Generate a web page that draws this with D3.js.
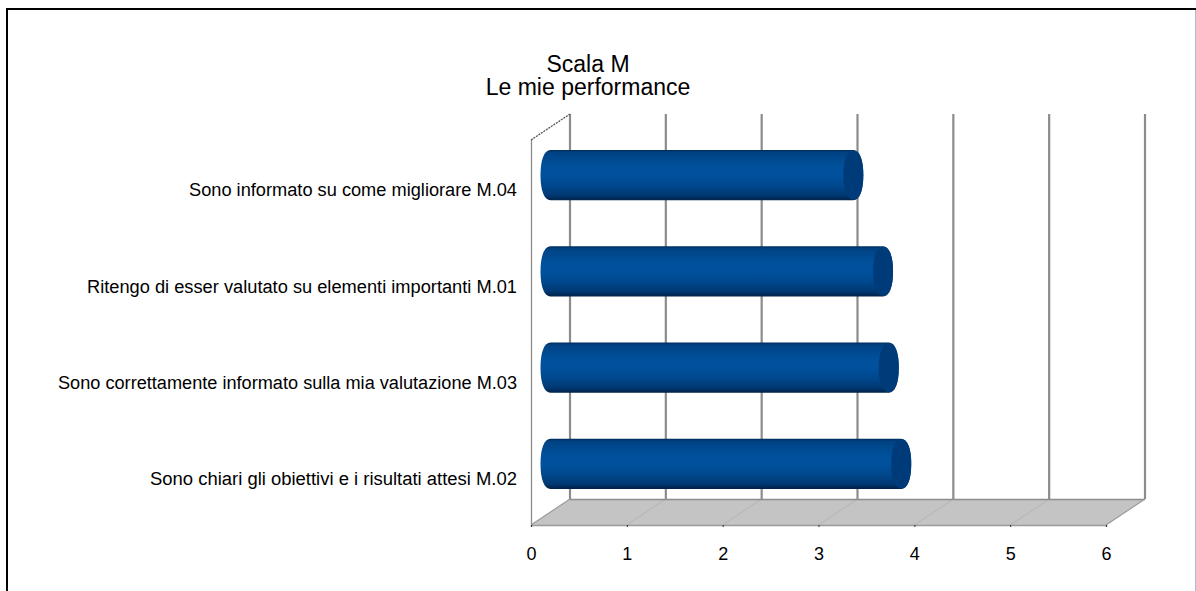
<!DOCTYPE html>
<html>
<head>
<meta charset="utf-8">
<script src="https://cdn.jsdelivr.net/npm/d3@7"></script>
<style>
html, body { margin: 0; padding: 0; background: #fff; overflow: hidden; }
text { font-family: "Liberation Sans", Arial, sans-serif; fill: #000; }
</style>
</head>
<body>
<script>
// Survey scale M: mean score per statement
const titleLines = ["Scala M", "Le mie performance"];
const categories = [
  "Sono informato su come migliorare M.04",
  "Ritengo di esser valutato su elementi importanti M.01",
  "Sono correttamente informato sulla mia valutazione M.03",
  "Sono chiari gli obiettivi e i risultati attesi M.02"
];
const scores = [3.16, 3.47, 3.53, 3.66];
const xTicks = [0, 1, 2, 3, 4, 5, 6];

const width = 1196, height = 591;
const depthX = 39, depthY = -26;   // offset of the back wall from the front plane
const plotTop = 140, plotBottom = 525;
const labelWidths = [328, 430, 459, 367];

const svg = d3.select("body").append("svg")
  .attr("width", width).attr("height", height)
  .style("display", "block");

const x = d3.scaleLinear().domain([0, 6]).range([531, 1106]);
const y = d3.scaleBand().domain(categories).range([plotTop, plotBottom])
  .paddingInner(0.48).paddingOuter(0.24);

// Outer frame
svg.append("path")
  .attr("d", `M7,${height}V9H${width}`)
  .attr("fill", "none").attr("stroke", "#000").attr("stroke-width", 2);
svg.append("line")
  .attr("x1", 1195.5).attr("x2", 1195.5).attr("y1", 10).attr("y2", height)
  .attr("stroke", "#a9bcd0").attr("stroke-width", 1);

// Title
svg.append("text")
  .attr("x", 588).attr("y", 72).attr("text-anchor", "middle")
  .attr("font-size", 23)
  .selectAll("tspan").data(titleLines).join("tspan")
  .attr("x", 588).attr("dy", (d, i) => i ? 23 : 0).text(d => d);

const defs = svg.append("defs");
const bodyGrad = defs.append("linearGradient").attr("id", "barBody")
  .attr("x1", 0).attr("x2", 0).attr("y1", 0).attr("y2", 1);
[[0, "#002d5e"], [0.05, "#004283"], [0.3, "#004f9a"], [0.5, "#00519e"],
 [0.72, "#00478c"], [0.9, "#003872"], [1, "#00224a"]].forEach(([o, c]) =>
  bodyGrad.append("stop").attr("offset", o).attr("stop-color", c));

// Floor
svg.append("polygon")
  .attr("points", [
    [x(0), plotBottom], [x(0) + depthX, plotBottom + depthY],
    [x(6) + depthX, plotBottom + depthY], [x(6), plotBottom]
  ].join(" "))
  .attr("fill", "#c4c4c4");

// Floor division lines
svg.append("g").selectAll("line").data(xTicks.slice(1, -1)).join("line")
  .attr("x1", d => x(d)).attr("x2", d => x(d) + depthX)
  .attr("y1", plotBottom).attr("y2", plotBottom + depthY)
  .attr("stroke", "#b4b4b4").attr("stroke-width", 1);

// Back wall grid lines
svg.append("g").selectAll("line").data(xTicks).join("line")
  .attr("x1", d => x(d) + depthX).attr("x2", d => x(d) + depthX)
  .attr("y1", plotTop + depthY).attr("y2", plotBottom + depthY)
  .attr("stroke", "#8c8c8c").attr("stroke-width", 2.2);

// Back edge of the floor
svg.append("line")
  .attr("x1", x(0) + depthX).attr("x2", x(6) + depthX)
  .attr("y1", plotBottom + depthY + 0.5).attr("y2", plotBottom + depthY + 0.5)
  .attr("stroke", "#8c8c8c").attr("stroke-width", 1.5);

// Side edges of floor and wall
svg.append("line")
  .attr("x1", x(0) + 0.5).attr("x2", x(0) + 0.5)
  .attr("y1", plotTop).attr("y2", plotBottom)
  .attr("stroke", "#8c8c8c").attr("stroke-width", 1.3);
svg.append("line")
  .attr("x1", x(0)).attr("x2", x(0) + depthX)
  .attr("y1", plotTop).attr("y2", plotTop + depthY)
  .attr("stroke", "#555").attr("stroke-width", 1.3).attr("stroke-dasharray", "2 1");
svg.append("line")
  .attr("x1", x(0)).attr("x2", x(0) + depthX)
  .attr("y1", plotBottom).attr("y2", plotBottom + depthY)
  .attr("stroke", "#9a9a9a").attr("stroke-width", 1.2);
svg.append("line")
  .attr("x1", x(6)).attr("x2", x(6) + depthX)
  .attr("y1", plotBottom).attr("y2", plotBottom + depthY)
  .attr("stroke", "#9a9a9a").attr("stroke-width", 1.2);

// Value axis along the front edge of the floor
const xAxis = svg.append("g")
  .attr("transform", `translate(0,${plotBottom})`)
  .call(d3.axisBottom(x).tickValues(xTicks).tickSize(2).tickPadding(20).tickFormat(d3.format("d")));
xAxis.select(".domain").attr("stroke", "#9a9a9a").attr("stroke-width", 1.5);
xAxis.selectAll(".tick line").attr("stroke", "#333");
xAxis.selectAll("text").attr("font-size", 18).attr("font-family", null);

// Category labels
const yAxis = svg.append("g")
  .attr("transform", "translate(517,2.5)")
  .call(d3.axisLeft(y).tickSize(0).tickPadding(0));
yAxis.select(".domain").remove();
yAxis.selectAll("text").attr("font-size", 18).attr("font-family", null)
  .attr("textLength", (d, i) => labelWidths[i])
  .attr("lengthAdjust", "spacingAndGlyphs");

// Cylinder bars, set halfway into the depth of the plot
const capRx = 10;
const capK = 0.62;   // slightly squarer than a true ellipse
const barX = v => x(v) + depthX / 2;
const barY = c => y(c) + depthY / 2;

// Half outline of a cylinder end, running from (xc, yStart) to (xc, yEnd), bulging by rx
const capArc = (xc, yStart, yEnd, rx) => {
  const mid = (yStart + yEnd) / 2, dy = (yEnd - yStart) / 2;
  return `C${xc + capK * rx},${yStart} ${xc + rx},${mid - capK * dy} ${xc + rx},${mid}` +
         `C${xc + rx},${mid + capK * dy} ${xc + capK * rx},${yEnd} ${xc},${yEnd}`;
};

const bars = svg.append("g").selectAll("g")
  .data(categories.map((c, i) => ({ c, v: scores[i] }))).join("g");

bars.append("path")
  .attr("d", d => {
    const top = barY(d.c), bottom = top + y.bandwidth(), x0 = barX(0), x1 = barX(d.v);
    return `M${x0},${top}L${x1},${top}` + capArc(x1, top, bottom, capRx) +
           `L${x0},${bottom}` + capArc(x0, bottom, top, -capRx) + "Z";
  })
  .attr("fill", "url(#barBody)");

// Darker end face of each cylinder
bars.append("path")
  .attr("d", d => {
    const top = barY(d.c) + 0.5, bottom = top + y.bandwidth() - 1, x1 = barX(d.v);
    return `M${x1},${top}` + capArc(x1, top, bottom, capRx) + capArc(x1, bottom, top, -capRx) + "Z";
  })
  .attr("fill", "#003b79");
</script>
</body>
</html>
